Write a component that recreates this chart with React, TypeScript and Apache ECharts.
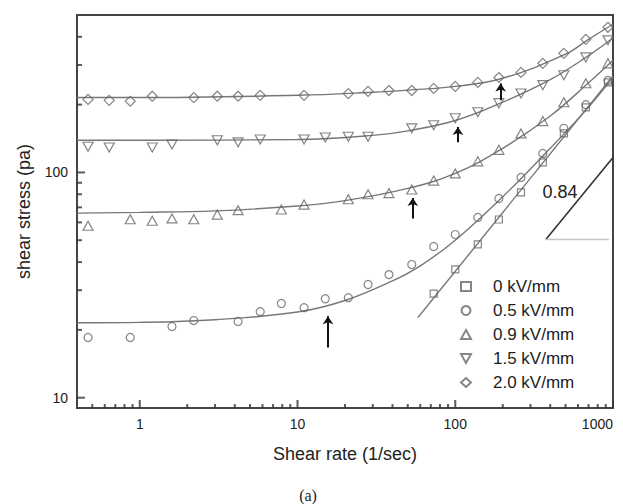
import React, { useEffect, useRef } from 'react';
import * as echarts from 'echarts';

// ---- tick values ----
const xMajor = [1, 10, 100, 1000];
const xMinor = [0.5, 0.6, 0.7, 0.8, 0.9, 2, 3, 4, 5, 6, 7, 8, 9, 20, 30, 40, 50, 60, 70, 80, 90, 200, 300, 400, 500, 600, 700, 800, 900];
const yMajor = [10, 100];
const yMinor = [20, 30, 40, 50, 60, 70, 80, 90, 200, 300, 400];
const X_MIN = 0.4;
const X_MAX = 1000;
const Y_MIN = 9;
const Y_MAX = 500;

// ---- measured data ----
const sqX = [73, 100, 139, 189, 261, 359, 488, 673, 929];
const sqY = [29, 37.1, 47.9, 61.8, 81.5, 110.8, 149, 194.5, 251];

const ciX = [0.47, 0.87, 1.6, 2.2, 4.2, 5.8, 7.9, 11, 15, 21, 28, 38, 53, 73, 100, 139, 189, 261, 359, 488, 673, 929];
const ciY = [18.5, 18.5, 20.7, 22, 21.8, 24.1, 26.2, 25.1, 27.5, 27.8, 31.8, 35.2, 39, 46.9, 53, 63.1, 76.6, 95, 121.5, 157, 200, 256];

const upX = [0.47, 0.87, 1.2, 1.6, 2.2, 3.1, 4.2, 7.9, 11, 21, 28, 38, 53, 73, 100, 139, 189, 261, 359, 488, 673, 929];
const upY = [58, 62, 61, 62.5, 62, 65, 68, 68.5, 72, 76, 80, 81, 84, 92, 99, 112, 126, 149, 169, 205, 249, 305];

const dnX = [0.47, 0.64, 1.2, 1.6, 3.1, 4.2, 5.8, 11, 15, 21, 28, 53, 73, 100, 139, 189, 261, 359, 488, 673, 929];
const dnY = [130, 129, 129, 133, 139, 136, 140, 140, 143, 144, 144, 157, 162, 174, 185, 203, 224, 244, 270, 324, 386];

const diX = [0.47, 0.64, 0.87, 1.2, 2.2, 3.1, 4.2, 5.8, 11, 21, 28, 38, 53, 73, 100, 139, 189, 261, 359, 488, 673, 929];
const diY = [211, 209, 207, 218, 215, 218, 218, 220, 220, 224, 229, 231, 231, 236, 241, 251, 264, 278, 305, 338, 390, 441];

// ---- fitted curves ----
const fitSqX = [58, 1000];
const fitSqY = [22.7, 268];
const fitCiX = [0.4, 1, 3, 10, 20, 40, 60, 100, 200, 400, 700, 1000];
const fitCiY = [21.5, 21.6, 22.2, 24, 27, 33, 38.5, 50, 78, 128, 195, 265];
const fitUpX = [0.4, 1, 3, 10, 20, 50, 100, 200, 400, 700, 1000];
const fitUpY = [66, 66.5, 67.5, 71, 75, 85, 99, 128, 178, 250, 315];
const fitDnX = [0.4, 1, 10, 30, 50, 100, 200, 400, 700, 1000];
const fitDnY = [139, 139, 140, 146, 153, 170, 205, 258, 330, 395];
const fitDiX = [0.4, 1, 10, 30, 50, 100, 200, 500, 700, 1000];
const fitDiY = [215, 215, 220, 227, 232, 241, 262, 335, 390, 455];

// ---- arrows (x, from y, to y) ----
const arrowX = [15.6, 53.8, 104, 194];
const arrowFrom = [16.7, 62.4, 136, 209];
const arrowTo = [23, 77, 159, 248];

// ---- slope triangle ----
const slopeX = [375, 1000];
const slopeY = [50.4, 116.6];
const baseX = [375, 942];
const slopeLabel = '0.84';

const names = ['0 kV/mm', '0.5 kV/mm', '0.9 kV/mm', '1.5 kV/mm', '2.0 kV/mm'];

const zip = (a: number[], b: number[]) => a.map((v, i) => [v, b[i]]);

const FONT = 'Liberation Sans, Arial, Helvetica, sans-serif';
const MARK = '#666';
const LINE = '#777';
const AXIS = '#444';
const TICK = '#333';

export default function App() {
  const ref = useRef<HTMLDivElement>(null);
  useEffect(() => {
    if (!ref.current) return;
    const chart = echarts.init(ref.current, null, { renderer: 'svg' });

    const scatter = (name: string, x: number[], y: number[], symbol: string, size: any, rotate = 0) => ({
      name,
      type: 'scatter',
      data: zip(x, y),
      symbol,
      symbolSize: size,
      symbolRotate: rotate,
      itemStyle: { color: 'rgba(255,255,255,0)', borderColor: MARK, borderWidth: 1.2 },
      z: 3,
    });
    const fit = (x: number[], y: number[]) => ({
      type: 'line',
      data: zip(x, y),
      smooth: 0.4,
      showSymbol: false,
      symbol: 'none',
      lineStyle: { color: LINE, width: 1.4 },
      silent: true,
      z: 2,
    });
    const ticks = (data: number[][], size: number[], offset: number[]) => ({
      type: 'scatter',
      data,
      symbol: 'rect',
      symbolSize: size,
      symbolOffset: offset,
      itemStyle: { color: TICK },
      clip: false,
      silent: true,
      z: 6,
    });

    chart.setOption({
      animation: false,
      backgroundColor: '#fff',
      grid: { left: 77, top: 15, width: 536, height: 393, show: true, borderColor: AXIS, borderWidth: 2, outerBoundsMode: 'none', containLabel: false },
      xAxis: {
        type: 'log',
        logBase: 10,
        min: X_MIN,
        max: X_MAX,
        splitLine: { show: false },
        name: 'Shear rate (1/sec)',
        nameLocation: 'middle',
        nameGap: 37,
        nameTextStyle: { fontSize: 18, color: '#222', fontFamily: FONT },
        axisLine: { show: true, lineStyle: { color: AXIS, width: 2 } },
        axisTick: { show: false },
        axisLabel: { customValues: xMajor, fontSize: 14, color: '#222', margin: 9, fontFamily: FONT, alignMaxLabel: 'right', formatter: (v: number) => String(Math.round(v)) },
      },
      yAxis: {
        type: 'log',
        logBase: 10,
        min: Y_MIN,
        max: Y_MAX,
        splitLine: { show: false },
        name: 'shear stress (pa)',
        nameLocation: 'middle',
        nameGap: 44,
        nameTextStyle: { fontSize: 18, color: '#222', fontFamily: FONT },
        axisLine: { show: true, lineStyle: { color: AXIS, width: 2 } },
        axisTick: { show: false },
        axisLabel: { customValues: yMajor, fontSize: 14, color: '#222', margin: 9, fontFamily: FONT, formatter: (v: number) => String(Math.round(v)) },
      },
      legend: {
        data: [
          { name: names[0] },
          { name: names[1] },
          { name: names[2] },
          { name: names[3], icon: 'path://M0,0L10,0L5,9Z' },
          { name: names[4] },
        ],
        orient: 'vertical',
        left: 455,
        top: 273,
        itemWidth: 10,
        itemHeight: 9,
        itemGap: 7,
        textStyle: { fontSize: 17, lineHeight: 17, color: '#222', fontFamily: FONT, padding: [0, 0, 0, 17] },
      },
      series: [
        ticks(xMajor.map((v) => [v, Y_MIN]), [2, 8], [0, -4]),
        ticks(xMinor.map((v) => [v, Y_MIN]), [2, 4], [0, -2]),
        ticks(yMajor.map((v) => [X_MIN, v]), [8, 2], [4, 0]),
        ticks(yMinor.map((v) => [X_MIN, v]), [5, 2], [2.5, 0]),
        fit(fitSqX, fitSqY),
        fit(fitCiX, fitCiY),
        fit(fitUpX, fitUpY),
        fit(fitDnX, fitDnY),
        fit(fitDiX, fitDiY),
        scatter(names[0], sqX, sqY, 'rect', 7),
        scatter(names[1], ciX, ciY, 'circle', 8),
        scatter(names[2], upX, upY, 'triangle', [10, 9]),
        scatter(names[3], dnX, dnY, 'triangle', [10, 9], 180),
        scatter(names[4], diX, diY, 'diamond', [10, 10]),
        {
          type: 'lines',
          coordinateSystem: 'cartesian2d',
          symbol: ['none', 'arrow'],
          symbolSize: [0, 8],
          lineStyle: { color: '#111', width: 2, opacity: 1 },
          data: arrowX.map((x, i) => ({ coords: [[x, arrowFrom[i]], [x, arrowTo[i]]] })),
          z: 4,
          silent: true,
        },
        {
          type: 'line',
          data: zip(slopeX, slopeY),
          symbol: 'none',
          lineStyle: { color: '#333', width: 1.6 },
          silent: true,
        },
        {
          type: 'line',
          data: zip(baseX, [slopeY[0], slopeY[0]]),
          symbol: 'none',
          lineStyle: { color: '#c4c4c4', width: 1.6 },
          silent: true,
        },
      ],
      graphic: [
        { type: 'text', x: 560, y: 192, z: 10, style: { text: slopeLabel, fill: '#222', font: `18px ${FONT}`, align: 'center', verticalAlign: 'middle' } },
        { type: 'text', x: 308, y: 495, z: 10, style: { text: '(a)', fill: '#222', font: '16px "Liberation Serif", "DejaVu Serif", serif', align: 'center', verticalAlign: 'middle' } },
      ],
    } as any);

    return () => chart.dispose();
  }, []);
  return <div ref={ref} style={{ position: 'fixed', left: 0, top: 0, width: 623, height: 504 }} />;
}
